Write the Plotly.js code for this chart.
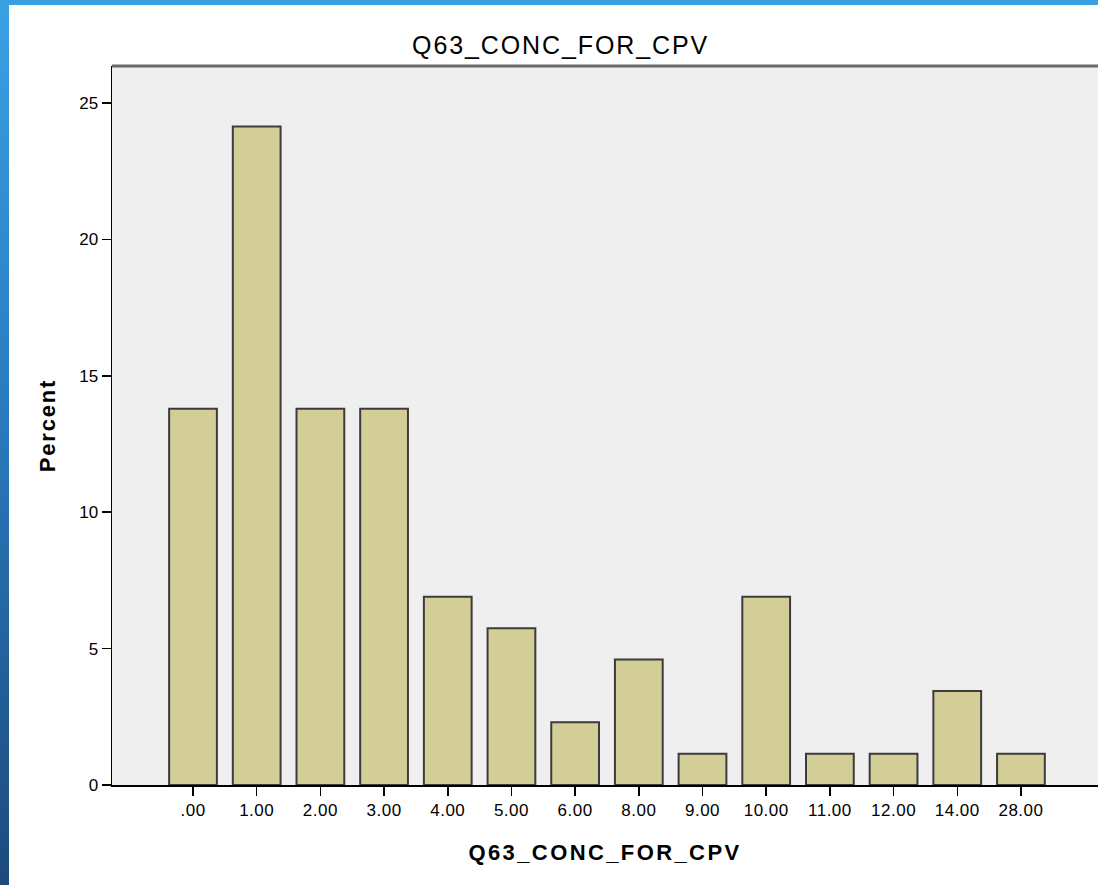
<!DOCTYPE html>
<html>
<head>
<meta charset="utf-8">
<script src="https://cdn.plot.ly/plotly-3.0.1.min.js"></script>
<style>
  html, body { margin: 0; padding: 0; background: #ffffff; overflow: hidden; }
  #chart { position: absolute; left: 0; top: 0; width: 1098px; height: 885px; }
  #frameLeft { position: absolute; left: 0; top: 0; width: 9px; height: 885px;
    background: linear-gradient(to bottom, #3aa1e2 0%, #2a7cc0 45%, #1d4a7c 100%); z-index: 5; }
  #frameTop { position: absolute; left: 0; top: 0; width: 1098px; height: 5px;
    background: #36a0e0; z-index: 5; }
  .gtitle { letter-spacing: 1.9px; }
  .xtitle { letter-spacing: 2.4px; }
  .ytitle { letter-spacing: 1.8px; }
  .xtick text { letter-spacing: 0.5px; }
</style>
</head>
<body>
<div id="chart"></div>
<div id="frameLeft"></div>
<div id="frameTop"></div>
<script>
const chartTitle = "Q63_CONC_FOR_CPV";
const xTitle = "Q63_CONC_FOR_CPV";
const yTitle = "Percent";
const categories = [".00", "1.00", "2.00", "3.00", "4.00", "5.00", "6.00", "8.00", "9.00", "10.00", "11.00", "12.00", "14.00", "28.00"];
const percentValues = [13.79, 24.14, 13.79, 13.79, 6.90, 5.75, 2.30, 4.60, 1.15, 6.90, 1.15, 1.15, 3.45, 1.15];
const yTickValues = [0, 5, 10, 15, 20, 25];

const trace = {
  type: "bar",
  x: categories,
  y: percentValues,
  width: 0.75,
  marker: { color: "#d3ce97", line: { color: "#3c3c3c", width: 2 } },
  hoverinfo: "x+y"
};

const layout = {
  width: 1098,
  height: 885,
  margin: { l: 112, r: 0, t: 66, b: 100 },
  paper_bgcolor: "#ffffff",
  plot_bgcolor: "#efefef",
  showlegend: false,
  bargap: 0.25,
  title: {
    text: chartTitle,
    font: { family: "Liberation Sans, Arial, sans-serif", size: 25, color: "#000000" },
    x: 0.455, xanchor: "center", xref: "paper",
    y: 0.949, yanchor: "middle"
  },
  xaxis: {
    type: "category",
    range: [-1.272, 14.21],
    showgrid: false,
    zeroline: false,
    showline: true, linecolor: "#000000", linewidth: 1.5,
    ticks: "outside", ticklen: 9, tickwidth: 1.5, tickcolor: "#000000",
    tickfont: { family: "Liberation Sans, Arial, sans-serif", size: 17, color: "#000000" },
    title: { text: "<b>" + xTitle + "</b>", standoff: 25,
      font: { family: "Liberation Sans, Arial, sans-serif", size: 22, color: "#000000" } }
  },
  yaxis: {
    range: [0, 26.36],
    tickvals: yTickValues,
    ticktext: yTickValues.map(String),
    showgrid: false,
    zeroline: false,
    showline: true, linecolor: "#000000", linewidth: 1.5,
    ticks: "outside", ticklen: 9, tickwidth: 1.5, tickcolor: "#000000",
    tickfont: { family: "Liberation Sans, Arial, sans-serif", size: 17, color: "#000000" },
    title: { text: "<b>" + yTitle + "</b>", standoff: 17,
      font: { family: "Liberation Sans, Arial, sans-serif", size: 22, color: "#000000" } }
  },
  shapes: [
    { type: "line", xref: "paper", yref: "paper", x0: 0, x1: 1, y0: 1, y1: 1,
      line: { color: "#6a6a6a", width: 3 } }
  ]
};

Plotly.newPlot("chart", [trace], layout, { displayModeBar: false, staticPlot: true });
</script>
</body>
</html>
